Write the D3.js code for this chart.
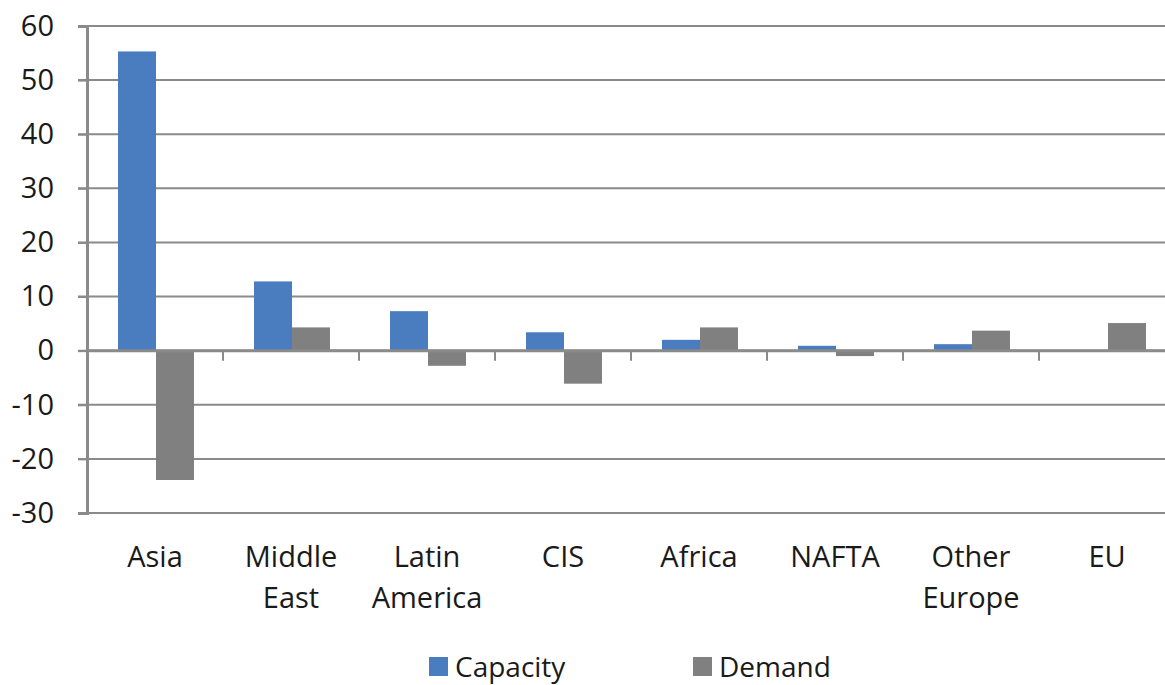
<html>
<head>
<meta charset="utf-8">
<title>Capacity vs Demand</title>
<script src="https://cdn.jsdelivr.net/npm/d3@7"></script>
<style>
  body { margin: 0; background: #fff; }
  text { font-family: "Open Sans", sans-serif; fill: #1a1a1a; }
</style>
</head>
<body>
<script>
// data
var categories = [["Asia"], ["Middle", "East"], ["Latin", "America"], ["CIS"], ["Africa"], ["NAFTA"], ["Other", "Europe"], ["EU"]];
var series = ["Capacity", "Demand"];
var capacity = [55.3, 12.8, 7.3, 3.4, 2.0, 0.9, 1.2, 0];
var demand = [-23.9, 4.3, -2.8, -6.1, 4.3, -1.0, 3.7, 5.1];
var yTicks = [60, 50, 40, 30, 20, 10, 0, -10, -20, -30];
var colors = ["#4a7dbf", "#808080"];

var w = 1165, h = 685;
var plotLeft = 87, plotRight = 1175, plotTop = 26, plotBottom = 513;

var svg = d3.select("body").append("svg").attr("width", w).attr("height", h);

var keys = categories.map(function(c) { return c.join(" "); });
var x0 = d3.scaleBand().domain(keys).range([plotLeft, plotRight]);
var x1 = d3.scaleBand().domain(series).range([31, 107]);
var y = d3.scaleLinear().domain([-30, 60]).range([plotBottom, plotTop]);

// gridlines
svg.append("g").selectAll("line").data(yTicks).enter().append("line")
  .attr("x1", plotLeft - 9).attr("x2", plotRight)
  .attr("y1", function(d) { return y(d); }).attr("y2", function(d) { return y(d); })
  .attr("stroke", "#8a8a8a").attr("stroke-width", 2);

// y axis
var yAxis = svg.append("g").attr("transform", "translate(" + plotLeft + ",0)")
  .call(d3.axisLeft(y).tickValues(yTicks).tickSize(9).tickPadding(24)
    .tickFormat(function(d) { return String(d); }));
yAxis.select(".domain").attr("stroke", "#8a8a8a").attr("stroke-width", 3);
yAxis.selectAll(".tick line").attr("stroke", "#8a8a8a").attr("stroke-width", 2);
yAxis.selectAll(".tick text").style("font-size", "29px").style("font-family", "'Open Sans', sans-serif").attr("fill", "#1a1a1a");

// bars
var rows = keys.map(function(k, i) { return { key: k, vals: [capacity[i], demand[i]] }; });
var groups = svg.append("g").selectAll("g").data(rows).enter().append("g")
  .attr("transform", function(d) { return "translate(" + x0(d.key) + ",0)"; });
groups.selectAll("rect").data(function(d) { return d.vals.map(function(v, j) { return { s: series[j], v: v, j: j }; }); })
  .enter().append("rect")
  .attr("x", function(d) { return x1(d.s); })
  .attr("width", x1.bandwidth())
  .attr("y", function(d) { return y(Math.max(0, d.v)); })
  .attr("height", function(d) { return Math.abs(y(d.v) - y(0)); })
  .attr("fill", function(d) { return colors[d.j]; });

// zero axis with category ticks
svg.append("line").attr("x1", plotLeft).attr("x2", plotRight).attr("y1", y(0)).attr("y2", y(0))
  .attr("stroke", "#8a8a8a").attr("stroke-width", 3);
svg.append("g").selectAll("line").data(keys.slice(1)).enter().append("line")
  .attr("x1", function(d) { return x0(d); }).attr("x2", function(d) { return x0(d); })
  .attr("y1", y(0)).attr("y2", y(0) + 10)
  .attr("stroke", "#8a8a8a").attr("stroke-width", 2);

// category labels
var labels = svg.append("g").selectAll("text").data(categories).enter().append("text")
  .attr("text-anchor", "middle")
  .style("font-size", "29px")
  .attr("transform", function(d, i) { return "translate(" + (x0(keys[i]) + x0.bandwidth() / 2) + ",567)"; });
labels.selectAll("tspan").data(function(d) { return d; }).enter().append("tspan")
  .attr("x", 0).attr("dy", function(d, i) { return i === 0 ? 0 : 41; })
  .text(function(d) { return d; });

// legend
var legendX = [429, 693];
var legend = svg.append("g").selectAll("g").data(series).enter().append("g")
  .attr("transform", function(d, i) { return "translate(" + legendX[i] + ",657)"; });
legend.append("rect").attr("width", 19).attr("height", 19).attr("fill", function(d, i) { return colors[i]; });
legend.append("text").attr("x", 26).attr("y", 20).style("font-size", "28px").text(function(d) { return d; });
</script>
</body>
</html>
